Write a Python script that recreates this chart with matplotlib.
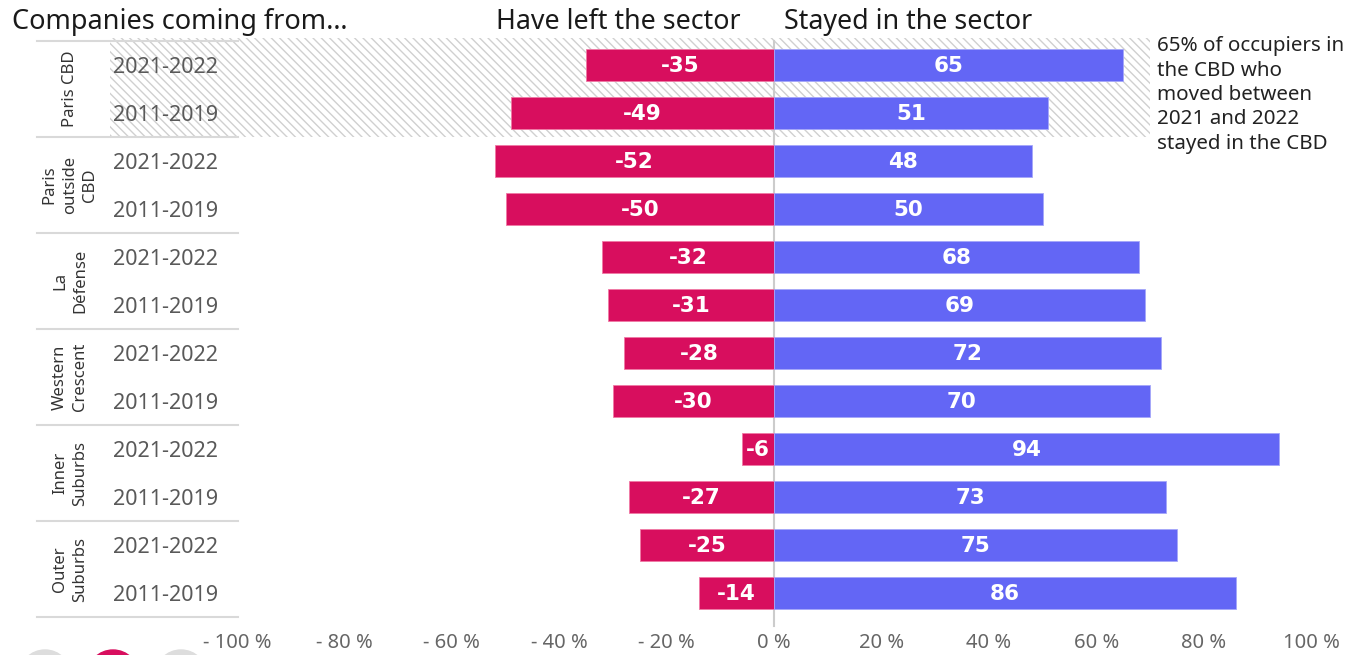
import matplotlib.pyplot as plt
from matplotlib.patches import Rectangle, Ellipse
import numpy as np

# Data
groups = ["Paris CBD", "Paris\noutside\nCBD", "La\nDéfense", "Western\nCrescent",
          "Inner\nSuburbs", "Outer\nSuburbs"]
periods = ["2021-2022", "2011-2019"]
left_sector = [-35, -49, -52, -50, -32, -31, -28, -30, -6, -27, -25, -14]
stayed = [65, 51, 48, 50, 68, 69, 72, 70, 94, 73, 75, 86]
x_ticks = [-100, -80, -60, -40, -20, 0, 20, 40, 60, 80, 100]

pink = "#D80E5E"
blue = "#6366F5"
W, H = 1347, 655
ppu = 5.37   # pixels per percent
x0 = 774     # pixel of 0 %
row_h = 48
y0 = 65

plt.rcParams['font.family'] = ['Noto Sans', 'DejaVu Sans']

fig = plt.figure(figsize=(W / 100, H / 100), dpi=100)
ax = fig.add_axes([0, 0, 1, 1])
ax.set_xlim((0 - x0) / ppu, (W - x0) / ppu)
ax.set_ylim((H - y0) / row_h, (0 - y0) / row_h)
ax.axis("off")

def px(p):
    return (p - x0) / ppu

def py(p):
    return (p - y0) / row_h

n = len(left_sector)
ys = np.arange(n)

# hatched highlight for Paris CBD
ax.add_patch(Rectangle((px(110), -0.56), px(1150) - px(110), 2.06,
                       facecolor="white", edgecolor="#d0d0d0", hatch="\\\\\\\\",
                       linewidth=0, zorder=0))

ax.barh(ys, left_sector, height=0.67, color=pink, edgecolor="#f07aa5", linewidth=0.6, zorder=2)
ax.barh(ys, stayed, height=0.67, color=blue, edgecolor="#a5a7fa", linewidth=0.6, zorder=2)

for y, l, s in zip(ys, left_sector, stayed):
    ax.text(l / 2, y + 0.03, str(l), ha="center", va="center", color="white",
            fontsize=15.5, fontweight="bold", family="DejaVu Sans", zorder=3)
    ax.text(s / 2, y + 0.03, str(s), ha="center", va="center", color="white",
            fontsize=15.5, fontweight="bold", family="DejaVu Sans", zorder=3)
    ax.text(px(113), y + 0.06, periods[y % 2], ha="left", va="center",
            color="#595959", fontsize=15.5, zorder=3)

# zero line
ax.plot([0, 0], [-0.5, 11.68], color="#cccccc", linewidth=1.5, zorder=1)

# group separators and labels
for g, name in enumerate(groups):
    top = 2 * g - 0.5
    ax.plot([px(37), px(238)], [top, top], color="#d9d9d9", linewidth=1.5, zorder=1)
    ax.text(px(70), 2 * g + 0.5, name, rotation=90, ha="center", va="center",
            color="#333333", fontsize=12, linespacing=1.35, zorder=3)
ax.plot([px(37), px(238)], [11.5, 11.5], color="#d9d9d9", linewidth=1.5, zorder=1)

# x tick labels
for t in x_ticks:
    lab = f"- {abs(t)} %" if t < 0 else f"{t} %"
    ax.text(t, py(643), lab, ha="center", va="center", color="#666666", fontsize=14.5)

# headers
ax.text(px(12), py(22), "Companies coming from…",
        ha="left", va="center", fontsize=19.5, color="#1a1a1a")
ax.text(px(740), py(22), "Have left the sector", ha="right", va="center",
        fontsize=19.3, color="#1a1a1a")
ax.text(px(784), py(22), "Stayed in the sector", ha="left", va="center",
        fontsize=19.3, color="#1a1a1a")

# annotation
ax.text(px(1157), py(36),
        "65% of occupiers in\nthe CBD who\nmoved between\n2021 and 2022\nstayed in the CBD",
        ha="left", va="top", fontsize=14.8, color="#222222", linespacing=1.3)

# carousel dots at the bottom
for cx, c in zip([45, 113, 181], ["#dddddd", pink, "#dddddd"]):
    fig.add_artist(Ellipse((cx / W, 1 - 676 / H), 52 / W, 52 / H,
                           transform=fig.transFigure, color=c))

fig.savefig("out.png", dpi=100)
